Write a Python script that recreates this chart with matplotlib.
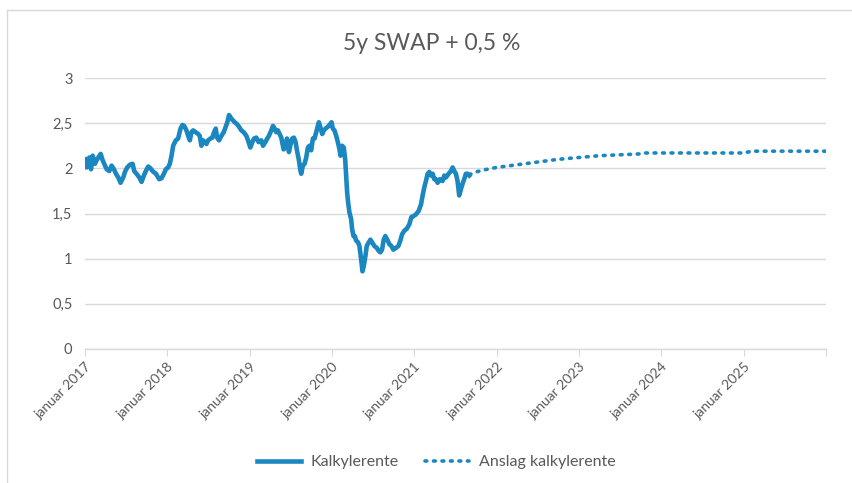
import matplotlib.pyplot as plt
from matplotlib.lines import Line2D

# historisk kalkylerente (x i desimalår)
hist_aar = [
    2017.000, 2017.020, 2017.053, 2017.073, 2017.093, 2017.121, 2017.141, 2017.162, 2017.190, 2017.214,
    2017.234, 2017.263, 2017.295, 2017.323, 2017.352, 2017.376, 2017.404, 2017.432, 2017.465, 2017.485,
    2017.513, 2017.545, 2017.578, 2017.598, 2017.626, 2017.659, 2017.687, 2017.715, 2017.739, 2017.768,
    2017.796, 2017.820, 2017.861, 2017.901, 2017.929, 2017.958, 2017.982, 2018.010, 2018.030, 2018.051,
    2018.071, 2018.103, 2018.131, 2018.160, 2018.184, 2018.204, 2018.232, 2018.253, 2018.273, 2018.293,
    2018.313, 2018.345, 2018.374, 2018.394, 2018.414, 2018.434, 2018.455, 2018.475, 2018.495, 2018.523,
    2018.547, 2018.568, 2018.588, 2018.604, 2018.628, 2018.657, 2018.685, 2018.709, 2018.729, 2018.749,
    2018.778, 2018.798, 2018.818, 2018.846, 2018.871, 2018.899, 2018.927, 2018.960, 2018.980, 2019.008,
    2019.032, 2019.053, 2019.081, 2019.109, 2019.141, 2019.162, 2019.190, 2019.214, 2019.234, 2019.263,
    2019.283, 2019.303, 2019.323, 2019.343, 2019.364, 2019.384, 2019.412, 2019.436, 2019.453, 2019.477,
    2019.493, 2019.517, 2019.537, 2019.558, 2019.574, 2019.598, 2019.614, 2019.626, 2019.646, 2019.667,
    2019.687, 2019.707, 2019.727, 2019.747, 2019.768, 2019.788, 2019.808, 2019.828, 2019.840, 2019.857,
    2019.881, 2019.901, 2019.921, 2019.949, 2019.978, 2019.994, 2020.010, 2020.030, 2020.051, 2020.071,
    2020.091, 2020.103, 2020.123, 2020.143, 2020.160, 2020.172, 2020.184, 2020.196, 2020.212, 2020.232,
    2020.244, 2020.261, 2020.277, 2020.293, 2020.317, 2020.333, 2020.354, 2020.370, 2020.386, 2020.406,
    2020.422, 2020.446, 2020.467, 2020.487, 2020.515, 2020.543, 2020.564, 2020.588, 2020.608, 2020.628,
    2020.648, 2020.677, 2020.697, 2020.721, 2020.745, 2020.778, 2020.806, 2020.830, 2020.851, 2020.879,
    2020.907, 2020.939, 2020.964, 2020.988, 2021.020, 2021.053, 2021.081, 2021.101, 2021.121, 2021.141,
    2021.162, 2021.182, 2021.202, 2021.222, 2021.242, 2021.263, 2021.283, 2021.311, 2021.343, 2021.364,
    2021.384, 2021.416, 2021.444, 2021.465, 2021.485, 2021.505, 2021.525, 2021.545, 2021.566, 2021.586,
    2021.606, 2021.626, 2021.646, 2021.667,
]
hist_rente = [
    2.10, 2.01, 2.12, 1.99, 2.14, 2.05, 2.09, 2.12, 2.16, 2.09,
    2.05, 1.99, 1.97, 2.03, 1.99, 1.94, 1.90, 1.84, 1.90, 1.96,
    2.01, 2.04, 2.05, 1.97, 1.94, 1.90, 1.85, 1.92, 1.97, 2.02,
    2.00, 1.97, 1.94, 1.88, 1.89, 1.94, 1.99, 2.01, 2.05, 2.14,
    2.25, 2.31, 2.33, 2.44, 2.48, 2.47, 2.42, 2.36, 2.31, 2.40,
    2.42, 2.40, 2.38, 2.36, 2.25, 2.31, 2.29, 2.27, 2.31, 2.33,
    2.34, 2.40, 2.44, 2.34, 2.31, 2.36, 2.40, 2.46, 2.51, 2.59,
    2.55, 2.53, 2.51, 2.49, 2.46, 2.42, 2.40, 2.36, 2.31, 2.23,
    2.29, 2.33, 2.34, 2.29, 2.31, 2.25, 2.29, 2.33, 2.36, 2.42,
    2.47, 2.44, 2.40, 2.42, 2.38, 2.34, 2.21, 2.23, 2.33, 2.18,
    2.25, 2.33, 2.34, 2.29, 2.20, 2.09, 1.99, 1.94, 2.03, 2.05,
    2.12, 2.23, 2.25, 2.20, 2.33, 2.33, 2.40, 2.47, 2.51, 2.46,
    2.38, 2.42, 2.44, 2.46, 2.49, 2.51, 2.44, 2.42, 2.36, 2.29,
    2.21, 2.14, 2.25, 2.23, 2.10, 1.92, 1.73, 1.62, 1.51, 1.44,
    1.33, 1.25, 1.25, 1.20, 1.18, 1.14, 0.99, 0.86, 0.92, 1.03,
    1.14, 1.18, 1.21, 1.18, 1.14, 1.12, 1.09, 1.07, 1.10, 1.21,
    1.25, 1.20, 1.16, 1.14, 1.10, 1.12, 1.14, 1.20, 1.27, 1.31,
    1.33, 1.38, 1.46, 1.47, 1.49, 1.53, 1.60, 1.70, 1.79, 1.86,
    1.94, 1.96, 1.92, 1.94, 1.88, 1.88, 1.84, 1.88, 1.86, 1.92,
    1.90, 1.94, 1.97, 2.01, 1.97, 1.94, 1.86, 1.70, 1.77, 1.83,
    1.88, 1.94, 1.94, 1.92,
]

# anslag
anslag_aar = [2021.667, 2021.75, 2021.83, 2022.0, 2022.25, 2022.5, 2022.75, 2023.0, 2023.25,
              2023.5, 2023.75, 2023.8, 2024.0, 2024.5, 2025.0, 2025.1, 2025.5, 2026.0]
anslag_rente = [1.93, 1.96, 1.98, 2.01, 2.04, 2.07, 2.10, 2.12, 2.14,
                2.15, 2.16, 2.17, 2.17, 2.17, 2.17, 2.19, 2.19, 2.19]

aar = list(range(2017, 2027))
aar_etiketter = ["januar %d" % a for a in range(2017, 2026)] + [""]
y_ticks = [0, 0.5, 1, 1.5, 2, 2.5, 3]
y_etiketter = ["0", "0,5", "1", "1,5", "2", "2,5", "3"]

blaa = "#1b87c1"
graa_tekst = "#595959"
grid_farge = "#d9d9d9"

plt.rcParams["font.family"] = ["Lato", "DejaVu Sans"]

fig = plt.figure(figsize=(8.53, 4.83), dpi=100)
ax = fig.add_axes([85 / 853, 1 - 349 / 483, (826 - 85) / 853, (349 - 78) / 483])

ax.plot(hist_aar, hist_rente, color=blaa, lw=3.3, solid_joinstyle="round", label="Kalkylerente")
ax.plot(anslag_aar, anslag_rente, color=blaa, lw=2.6, linestyle=(0, (0.5, 1.85)),
        dash_capstyle="round", label="Anslag kalkylerente")

ax.set_xlim(2017, 2026)
ax.set_ylim(0, 3)
ax.set_xticks(aar)
ax.set_xticklabels(aar_etiketter, rotation=45, ha="right", rotation_mode="anchor",
                   fontsize=10, color=graa_tekst)
ax.set_yticks(y_ticks)
ax.set_yticklabels(y_etiketter, fontsize=10.5, color=graa_tekst)

ax.grid(axis="y", color=grid_farge, lw=1)
ax.set_axisbelow(True)
for s in ["top", "right", "left"]:
    ax.spines[s].set_visible(False)
ax.spines["bottom"].set_color(grid_farge)
ax.spines["bottom"].set_linewidth(1)
ax.tick_params(axis="x", direction="out", length=5, color=grid_farge, pad=3)
ax.tick_params(axis="y", length=0, pad=9)

fig.text(432 / 853, 1 - 43 / 483, "5y SWAP + 0,5 %", ha="center", va="center",
         fontsize=16.5, color=graa_tekst)

fig.legend(loc="center", bbox_to_anchor=(436 / 853, 1 - 462 / 483), ncol=2, frameon=False,
           fontsize=11.5, labelcolor=graa_tekst, handlelength=2.8, columnspacing=1.6,
           handletextpad=0.6)

# ramme rundt diagrammet
fig.add_artist(Line2D([7 / 853, 7 / 853], [0, 1 - 10 / 483], transform=fig.transFigure,
                      color=grid_farge, lw=1))
fig.add_artist(Line2D([7 / 853, 1], [1 - 10 / 483, 1 - 10 / 483], transform=fig.transFigure,
                      color=grid_farge, lw=1))

fig.savefig("out.png", dpi=100)
